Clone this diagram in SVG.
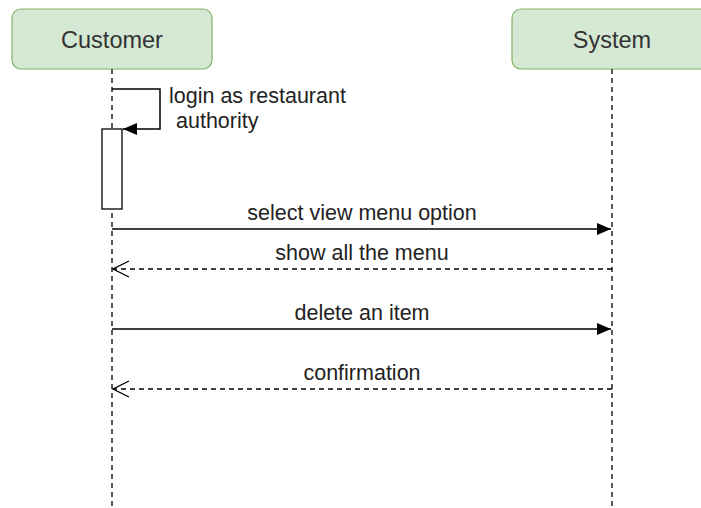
<svg xmlns="http://www.w3.org/2000/svg" width="701" height="508" viewBox="0 0 701 508">
<style>
.head{fill:#d5e8d4;stroke:#82b366;stroke-width:1.2}
.ht{font-family:"Liberation Sans",Arial,sans-serif;font-size:23.5px;fill:#333;text-anchor:middle}
.lt{font-family:"Liberation Sans",Arial,sans-serif;font-size:21.5px;fill:#222}
.life{stroke:#000;stroke-width:1.3;stroke-dasharray:5,4;fill:none}
.msg{stroke:#000;stroke-width:1.5;fill:none}
.ret{stroke:#000;stroke-width:1.3;stroke-dasharray:5,4;fill:none}
</style>
<defs>
<marker id="filled" markerWidth="14" markerHeight="12" refX="14" refY="6" orient="auto" markerUnits="userSpaceOnUse">
<path d="M0,0 L14,6 L0,12 Z" fill="#000"/>
</marker>
<marker id="open" markerWidth="18" markerHeight="18" refX="17" refY="9" orient="auto" markerUnits="userSpaceOnUse">
<path d="M1,1 L17,9 L1,17" fill="none" stroke="#000" stroke-width="1.3"/>
</marker>
</defs>
<rect width="701" height="508" fill="#fff"/>
<g id="customer">
<rect class="head" x="12" y="9" width="200" height="60" rx="9"/>
<text class="ht" x="112" y="48">Customer</text>
<line class="life" x1="112" y1="69" x2="112" y2="508"/>
</g>
<g id="system">
<rect class="head" x="512" y="9" width="200" height="60" rx="9"/>
<text class="ht" x="612" y="48">System</text>
<line class="life" x1="612" y1="69" x2="612" y2="508"/>
</g>
<g id="activation">
<rect x="102" y="129" width="20" height="80" fill="#fff" stroke="#000" stroke-width="1.3"/>
</g>
<g id="connectors">
<path class="msg" d="M112,89 H160 V129 H123" marker-end="url(#filled)"/>
<line class="msg" x1="112" y1="229" x2="611" y2="229" marker-end="url(#filled)"/>
<line class="ret" x1="612" y1="269" x2="113" y2="269" marker-end="url(#open)"/>
<line class="msg" x1="112" y1="329" x2="611" y2="329" marker-end="url(#filled)"/>
<line class="ret" x1="612" y1="389" x2="113" y2="389" marker-end="url(#open)"/>
</g>
<g id="labels">
<text class="lt" x="169" y="103">login as restaurant</text>
<text class="lt" x="176" y="128">authority</text>
<text class="lt" x="362" y="220" text-anchor="middle">select view menu option</text>
<text class="lt" x="362" y="260" text-anchor="middle">show all the menu</text>
<text class="lt" x="362" y="320" text-anchor="middle">delete an item</text>
<text class="lt" x="362" y="380" text-anchor="middle">confirmation</text>
</g>
</svg>
